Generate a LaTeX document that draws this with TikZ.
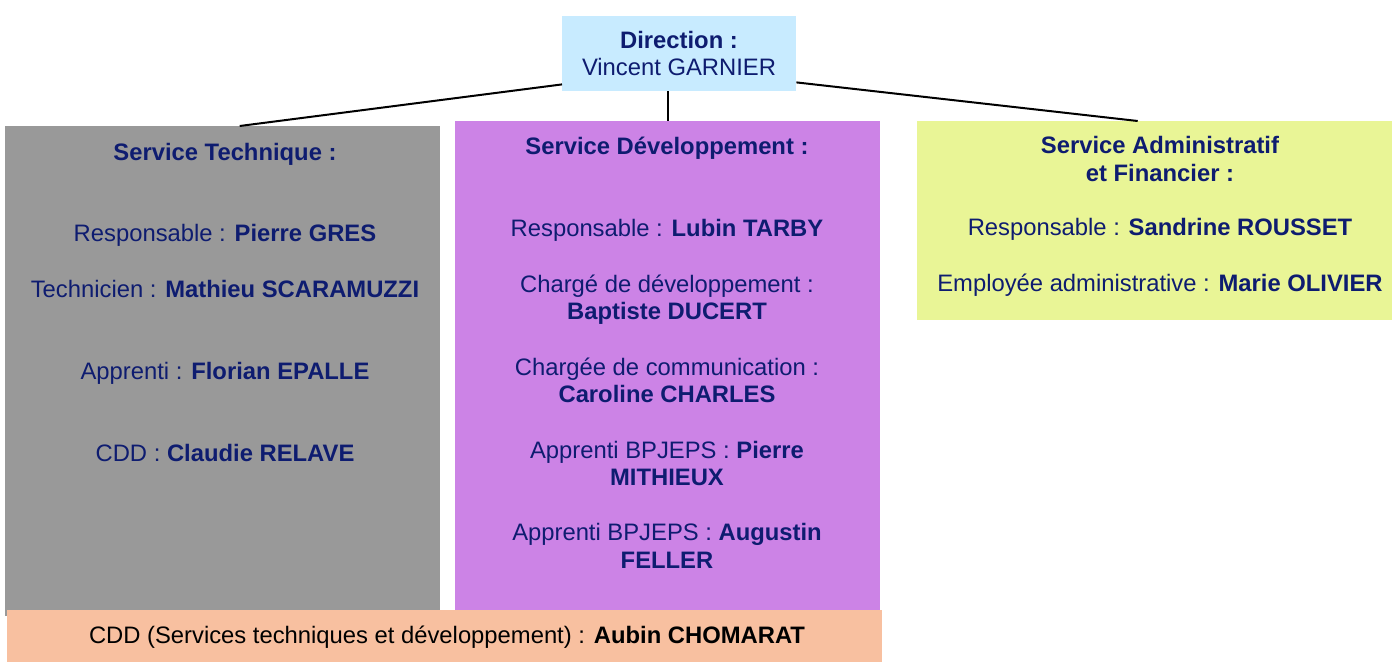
\documentclass[tikz,border=0pt]{standalone}
\usepackage{fontspec}
\setmainfont{Liberation Sans}
\usetikzlibrary{positioning}
\definecolor{navy}{RGB}{14,28,112}
\definecolor{dirblue}{RGB}{200,235,255}
\definecolor{techgray}{RGB}{153,153,153}
\definecolor{devpurple}{RGB}{204,131,230}
\definecolor{admyellow}{RGB}{233,245,150}
\definecolor{cddpeach}{RGB}{248,192,160}
\begin{document}
\begin{tikzpicture}[x=1pt,y=-1pt,
    box/.style={rectangle,inner sep=0pt,anchor=north west},
    txt/.style={text=navy,font=\fontsize{23.8}{27}\selectfont,inner sep=0pt,anchor=base},
    link/.style={line width=2pt}]
                        \useasboundingbox (0,0) rectangle (1392,662);
                        % boxes
                        \node[box,fill=dirblue,minimum width=234pt,minimum height=75pt] (dir) at (562,16) {};
                        \node[box,fill=techgray,minimum width=435pt,minimum height=490pt] (tech) at (5,126) {};
                        \node[box,fill=devpurple,minimum width=425pt,minimum height=489pt] (dev) at (455,121) {};
                        \node[box,fill=admyellow,minimum width=475pt,minimum height=199pt] (adm) at (917,121) {};
                        \node[box,fill=cddpeach,minimum width=875pt,minimum height=52pt] (cdd) at (7,610) {};
                        % links
                        \draw[link] ([yshift=7pt]dir.south west) -- ([xshift=17pt]tech.north);
                        \draw[link] (dev.north |- dir.south) -- (dev.north);
                        \draw[link] ([yshift=9pt]dir.south east) -- ([xshift=-17pt]adm.north);
                        % direction
                        \node[txt] (dirA) at (679,48) {\textbf{Direction :}};
                        \node[txt] (dirB) at (679,75) {Vincent GARNIER};
                        % service technique
                        \node[txt] (techA) at (225,160) {\textbf{Service Technique :}};
                        \node[txt] (techB) at (225,241) {Responsable : \textbf{Pierre GRES}};
                        \node[txt] (techC) at (225,297) {Technicien : \textbf{Mathieu SCARAMUZZI}};
                        \node[txt] (techD) at (225,379) {Apprenti : \textbf{Florian EPALLE}};
                        \node[txt] (techE) at (225,461) {CDD : \textbf{Claudie RELAVE}};
                        % service developpement
                        \node[txt] (devA) at (667,154) {\textbf{Service Développement :}};
                        \node[txt] (devB) at (667,236) {Responsable : \textbf{Lubin TARBY}};
                        \node[txt] (devC) at (667,292) {Chargé de développement :};
                        \node[txt] (devD) at (667,319) {\textbf{Baptiste DUCERT}};
                        \node[txt] (devE) at (667,375) {Chargée de communication :};
                        \node[txt] (devF) at (667,402) {\textbf{Caroline CHARLES}};
                        \node[txt] (devG) at (667,458) {Apprenti BPJEPS : \textbf{Pierre}};
                        \node[txt] (devH) at (667,485) {\textbf{MITHIEUX}};
                        \node[txt] (devI) at (667,540) {Apprenti BPJEPS : \textbf{Augustin}};
                        \node[txt] (devJ) at (667,568) {\textbf{FELLER}};
                        % service administratif
                        \node[txt] (admA) at (1160,153) {\textbf{Service Administratif}};
                        \node[txt] (admB) at (1160,181) {\textbf{et Financier :}};
                        \node[txt] (admC) at (1160,235) {Responsable : \textbf{Sandrine ROUSSET}};
                        \node[txt] (admD) at (1160,291) {Employée administrative : \textbf{Marie OLIVIER}};
                        % cdd
                        \node[txt,text=black] (cddA) at (447,643) {CDD (Services techniques et développement) : \textbf{Aubin CHOMARAT}};
                    \end{tikzpicture}
\end{document}
